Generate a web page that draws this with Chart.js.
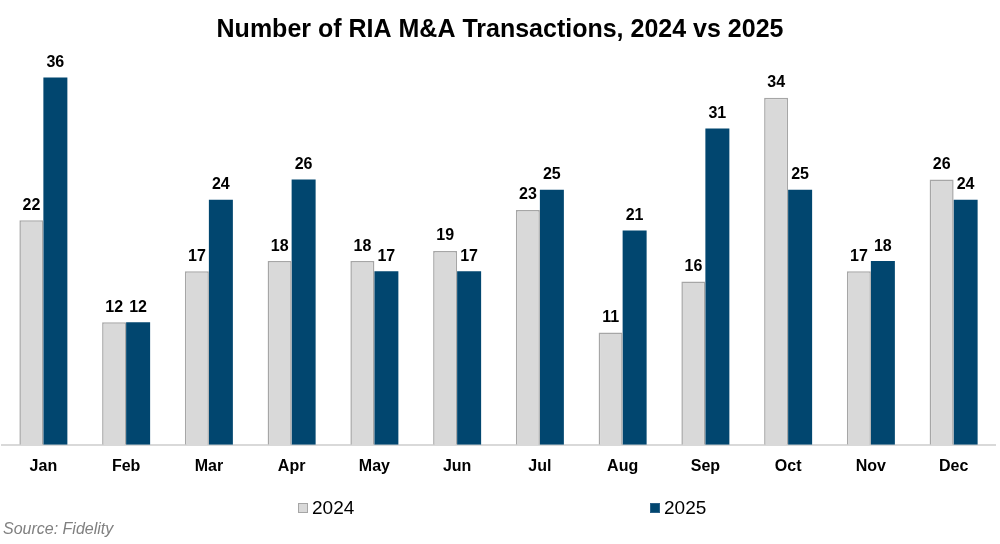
<!DOCTYPE html>
<html>
<head>
<meta charset="utf-8">
<script src="https://cdn.jsdelivr.net/npm/chart.js@4/dist/chart.umd.min.js"></script>
<style>
  html, body { margin: 0; padding: 0; background: #fff; }
  #wrap { position: relative; width: 1000px; height: 544px; }
</style>
</head>
<body>
<div id="wrap"><canvas id="chart" width="1000" height="544"></canvas></div>
<script>
const months = ['Jan', 'Feb', 'Mar', 'Apr', 'May', 'Jun', 'Jul', 'Aug', 'Sep', 'Oct', 'Nov', 'Dec'];
const deals2024 = [22, 12, 17, 18, 18, 19, 23, 11, 16, 34, 17, 26];
const deals2025 = [36, 12, 24, 26, 17, 17, 25, 21, 31, 25, 18, 24];

const titleText = 'Number of RIA M&A Transactions, 2024 vs 2025';
const sourceText = 'Source: Fidelity';

// value labels above each bar
const barLabels = {
  id: 'barLabels',
  afterDatasetsDraw(chart) {
    const ctx = chart.ctx;
    ctx.save();
    ctx.font = 'bold 16px "Liberation Sans", Arial, sans-serif';
    ctx.fillStyle = '#000';
    ctx.textAlign = 'center';
    ctx.textBaseline = 'bottom';
    chart.data.datasets.forEach((ds, i) => {
      chart.getDatasetMeta(i).data.forEach((bar, j) => {
        ctx.fillText(ds.data[j], bar.x, bar.y - 7);
      });
    });
    ctx.restore();
  }
};

// title, legend and source note
const decorations = {
  id: 'decorations',
  afterDraw(chart) {
    const ctx = chart.ctx;
    ctx.save();
    ctx.fillStyle = '#000';
    ctx.textAlign = 'center';
    ctx.textBaseline = 'middle';
    ctx.font = 'bold 25px "Liberation Sans", Arial, sans-serif';
    ctx.fillText(titleText, 500, 30);

    const legendX = [298, 650];
    ctx.font = '19px "Liberation Sans", Arial, sans-serif';
    ctx.textAlign = 'left';
    chart.data.datasets.forEach((ds, i) => {
      const x = legendX[i];
      ctx.fillStyle = ds.backgroundColor;
      ctx.fillRect(x, 503, 10, 10);
      ctx.strokeStyle = ds.borderColor;
      ctx.lineWidth = 1;
      ctx.strokeRect(x + 0.5, 503.5, 9, 9);
      ctx.fillStyle = '#000';
      ctx.fillText(ds.label, x + 14, 509);
    });

    ctx.font = 'italic 16px "Liberation Sans", Arial, sans-serif';
    ctx.fillStyle = '#808080';
    ctx.fillText(sourceText, 3, 530);
    ctx.restore();
  }
};

new Chart(document.getElementById('chart'), {
  type: 'bar',
  data: {
    labels: months,
    datasets: [
      {
        label: '2024',
        data: deals2024,
        backgroundColor: '#d9d9d9',
        borderColor: '#a6a6a6',
        borderWidth: { top: 1.5, left: 1.5, right: 1.5, bottom: 0 },
        borderSkipped: 'bottom'
      },
      {
        label: '2025',
        data: deals2025,
        backgroundColor: '#01466f',
        borderColor: '#2a6088',
        borderWidth: 0
      }
    ]
  },
  options: {
    responsive: false,
    animation: false,
    layout: { padding: { top: 57, left: 2, right: 5, bottom: 56 } },
    datasets: { bar: { categoryPercentage: 0.58, barPercentage: 1 } },
    plugins: {
      legend: { display: false },
      title: { display: false },
      tooltip: { enabled: false }
    },
    scales: {
      x: {
        grid: { display: false, drawTicks: false },
        border: { display: true, color: '#d9d9d9', width: 2 },
        ticks: {
          color: '#000',
          padding: 12,
          font: { family: '"Liberation Sans", Arial, sans-serif', size: 16, weight: 'bold' }
        }
      },
      y: {
        display: false,
        min: 0,
        max: 38
      }
    }
  },
  plugins: [barLabels, decorations]
});
</script>
</body>
</html>
